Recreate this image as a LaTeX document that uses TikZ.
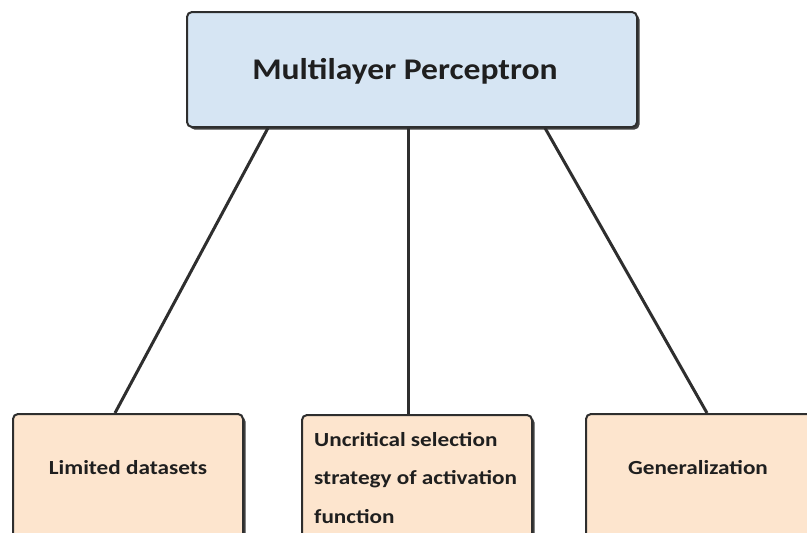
\documentclass[tikz,border=0pt]{standalone}
\usepackage{fontspec}
\setmainfont{Carlito}
\newfontfamily\headfont{Carlito}[FakeStretch=1.12]
\newfontfamily\leaffont{Carlito}[FakeStretch=1.16]
\usetikzlibrary{shadows}
\definecolor{headfill}{HTML}{D6E5F3}
\definecolor{leaffill}{HTML}{FDE5CE}
\definecolor{edgegray}{HTML}{2E2E2E}
\tikzset{
  boxbase/.style={draw=edgegray, line width=2pt, rounded corners=5pt,
    drop shadow={shadow xshift=2.5pt, shadow yshift=-2.5pt, fill=black, opacity=0.75}},
  headbox/.style={boxbase, fill=headfill, minimum width=450pt, minimum height=115pt},
  headtext/.style={font=\headfont\bfseries\fontsize{30}{36}\selectfont, text=black!88,
    inner sep=0pt, text height=20pt, text depth=0pt},
  leafbox/.style={boxbase, fill=leaffill, minimum width=230pt, minimum height=170pt},
  leaftext/.style={font=\leaffont\bfseries\fontsize{20}{38.5}\selectfont, text=black!88, inner sep=0pt},
  link/.style={draw=edgegray, line width=3pt}
}
\begin{document}
\begin{tikzpicture}[x=1pt,y=-1pt]
  \useasboundingbox (0,0) rectangle (807,533);
  \clip (0,0) rectangle (807,533);

  % root node and its title
  \node[headbox] (mlp) at (412,69.5) {};
  \node[headtext] (mlpt) at ([xshift=-7pt]mlp.center) {Multilayer Perceptron};

  % leaf boxes (running past the lower edge)
  \node[leafbox] (lim) at (128,499) {};
  \node[leafbox] (act) at (417,500) {};
  \node[leafbox] (gen) at (701,499) {};

  % leaf labels
  \node[leaftext, anchor=base] (limt) at ([yshift=-61pt]lim.north) {Limited datasets};
  \node[leaftext, anchor=north west, align=left] (actt) at ([xshift=13pt,yshift=-18pt]act.north west)
    {Uncritical selection\\strategy of activation\\function};
  \node[leaftext, anchor=base] (gent) at ([xshift=-3pt,yshift=-61pt]gen.north) {Generalization};

  % connectors
  \draw[link] ([xshift=-144pt]mlp.south) -- ([xshift=-13pt]lim.north);
  \draw[link] ([xshift=-4pt]mlp.south) -- ([xshift=-9pt]act.north);
  \draw[link] ([xshift=133pt]mlp.south) -- ([xshift=6pt]gen.north);
\end{tikzpicture}
\end{document}
